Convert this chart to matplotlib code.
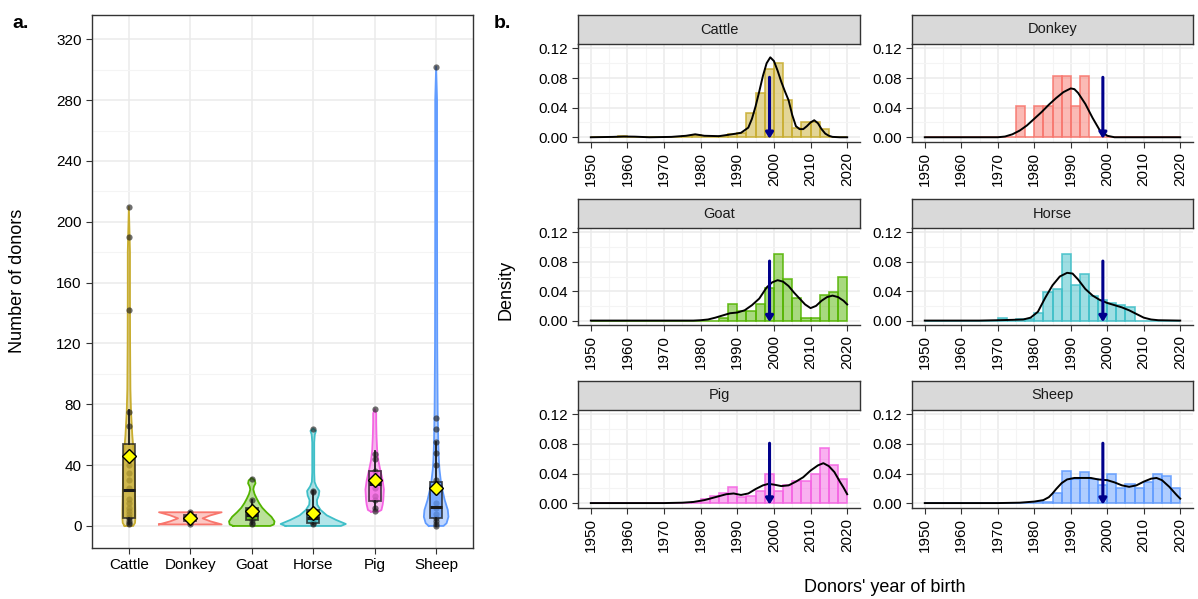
import numpy as np
import matplotlib.pyplot as plt
from matplotlib.colors import to_rgba

plt.rcParams['font.family'] = ['Liberation Sans', 'DejaVu Sans']

# ---------------- panel a data ----------------
species = ['Cattle', 'Donkey', 'Goat', 'Horse', 'Pig', 'Sheep']
colors = ['#C8AD2F', '#F8766D', '#53B400', '#3FBFC8', '#F564E3', '#619CFF']

# violin outlines: y levels and half widths
cattle_vy = [0, 2, 5, 10, 20, 30, 40, 50, 60, 75, 90, 120, 150, 180, 210]
cattle_vw = [0.07, 0.1, 0.105, 0.105, 0.1, 0.095, 0.09, 0.075, 0.055, 0.035, 0.025, 0.02, 0.018, 0.018, 0.0]
donkey_vy = [1, 3, 5, 7, 9]
donkey_vw = [0.51, 0.33, 0.2, 0.33, 0.51]
goat_vy = [0, 1, 3, 6, 9, 12, 15, 18, 21, 24, 26, 28, 30, 31.5]
goat_vw = [0.3, 0.36, 0.37, 0.32, 0.24, 0.17, 0.12, 0.08, 0.045, 0.025, 0.035, 0.06, 0.05, 0.0]
horse_vy = [0, 1.3, 4, 7, 10.5, 14, 17, 20, 23, 26, 29, 35, 45, 55, 60, 62.5, 64]
horse_vw = [0.45, 0.53, 0.37, 0.22, 0.12, 0.065, 0.06, 0.09, 0.1, 0.05, 0.022, 0.016, 0.016, 0.016, 0.025, 0.045, 0.0]
pig_vy = [9.4, 10.5, 14, 17, 24, 30, 37, 43, 50, 59, 68, 74, 76.8]
pig_vw = [0.06, 0.11, 0.13, 0.14, 0.15, 0.13, 0.09, 0.06, 0.04, 0.03, 0.025, 0.025, 0.0]
sheep_vy = [0, 1.8, 6, 10.5, 17, 24, 30, 37, 43, 54, 65, 76, 120, 200, 280, 302]
sheep_vw = [0.12, 0.17, 0.2, 0.19, 0.14, 0.1, 0.075, 0.055, 0.045, 0.035, 0.03, 0.025, 0.018, 0.015, 0.015, 0.0]
violin_y = [cattle_vy, donkey_vy, goat_vy, horse_vy, pig_vy, sheep_vy]
violin_w = [cattle_vw, donkey_vw, goat_vw, horse_vw, pig_vw, sheep_vw]

# box stats: whisker low, q1, median, q3, whisker high
box_lo = [1, 1, 1, 1, 11, 0]
box_q1 = [5, 3, 4, 2, 16.7, 5.5]
box_med = [23.7, 5, 7, 5, 27.4, 12.7]
box_q3 = [54, 7, 11.6, 10.5, 36.2, 29.2]
box_hi = [76, 9, 17, 23, 49, 55]
means = [46, 5, 9.9, 8.5, 30.3, 24.8]

# individual donor counts (visible dots)
cattle_pts = [210, 190, 142, 75, 66, 44, 40, 35, 30, 25, 18, 15, 12, 10, 8, 6, 5, 3, 2, 1]
donkey_pts = [1, 3, 5, 7, 9]
goat_pts = [31, 17, 11, 8, 6, 4, 2, 1]
horse_pts = [64, 23, 22, 10, 6, 4, 2, 1]
pig_pts = [77, 47, 44, 36, 30, 25, 20, 17, 12, 10]
sheep_pts = [302, 71, 64, 55, 48, 40, 30, 22, 15, 12, 8, 5, 3, 1, 0]
points = [cattle_pts, donkey_pts, goat_pts, horse_pts, pig_pts, sheep_pts]

# ---------------- panel b data ----------------
bin_width = 2.5
bin_starts = np.arange(1950, 2020, bin_width)  # 28 bins
hist_cattle = [0, 0, 0, 0.002, 0, 0.001, 0, 0, 0, 0, 0.002, 0.003, 0.001, 0.001,
               0.002, 0.005, 0.006, 0.033, 0.060, 0.092, 0.101, 0.051, 0.012, 0.021,
               0.021, 0.011, 0, 0]
hist_donkey = [0, 0, 0, 0, 0, 0, 0, 0, 0, 0, 0.042, 0, 0.042, 0.042,
               0.083, 0.083, 0.042, 0.083, 0, 0, 0, 0, 0, 0, 0, 0, 0, 0]
hist_goat = [0, 0, 0, 0, 0, 0, 0, 0, 0, 0, 0, 0, 0, 0,
             0.004, 0.022, 0.013, 0.013, 0.022, 0.044, 0.090, 0.056, 0.031, 0.004,
             0.004, 0.035, 0.039, 0.060]
hist_horse = [0, 0, 0, 0, 0, 0, 0, 0, 0.003, 0, 0.002, 0.002, 0.010, 0.039,
              0.043, 0.091, 0.048, 0.064, 0.034, 0.028, 0.024, 0.021, 0.018, 0,
              0, 0, 0, 0]
hist_pig = [0, 0, 0, 0, 0, 0, 0, 0, 0, 0, 0, 0.001, 0.006, 0.009,
            0.013, 0.022, 0.008, 0.010, 0.017, 0.040, 0.016, 0.024, 0.030, 0.030,
            0.039, 0.075, 0.052, 0.032]
hist_sheep = [0, 0, 0, 0, 0, 0, 0, 0, 0, 0, 0, 0, 0.001, 0.002,
              0.013, 0.043, 0.032, 0.042, 0.033, 0.024, 0.040, 0.020, 0.026, 0.020,
              0.028, 0.040, 0.036, 0.020]
hists = [hist_cattle, hist_donkey, hist_goat, hist_horse, hist_pig, hist_sheep]

# density curves
dens_cattle_x = [1950, 1956, 1959, 1962, 1966, 1972, 1976, 1978.5, 1981, 1985, 1988.5, 1991,
                 1993, 1994, 1995, 1996, 1997, 1998, 1999, 2000, 2001, 2002, 2003, 2004,
                 2005, 2006, 2007, 2008, 2009, 2010, 2011, 2012, 2013, 2014, 2015, 2016, 2018, 2020]
dens_cattle_y = [0, 0.0005, 0.001, 0.0008, 0, 0.0005, 0.002, 0.004, 0.002, 0.0015, 0.004, 0.006,
                 0.013, 0.025, 0.042, 0.062, 0.083, 0.100, 0.108, 0.103, 0.090, 0.075, 0.062, 0.050,
                 0.030, 0.015, 0.011, 0.011, 0.015, 0.020, 0.023, 0.019, 0.011, 0.005, 0.002, 0.0005, 0, 0]
dens_donkey_x = [1950, 1970, 1972, 1974, 1976, 1978, 1980, 1982, 1984, 1986, 1988, 1990, 1991,
                 1992, 1994, 1996, 1998, 2000, 2002, 2020]
dens_donkey_y = [0, 0, 0.001, 0.004, 0.009, 0.016, 0.025, 0.034, 0.044, 0.053, 0.061, 0.066, 0.065,
                 0.060, 0.045, 0.026, 0.009, 0.002, 0, 0]
dens_goat_x = [1950, 1978, 1980, 1982, 1984, 1986, 1988, 1990, 1992, 1994, 1996, 1998, 1999.5,
               2001, 2002.5, 2004, 2005.5, 2007, 2008.5, 2010, 2011.5, 2013, 2014.5, 2016, 2017.5,
               2019, 2020]
dens_goat_y = [0, 0, 0.0005, 0.0015, 0.004, 0.007, 0.010, 0.011, 0.014, 0.021, 0.030, 0.045, 0.052,
               0.055, 0.053, 0.047, 0.038, 0.030, 0.022, 0.017, 0.020, 0.027, 0.032, 0.034, 0.032,
               0.027, 0.022]
dens_horse_x = [1950, 1965, 1970, 1974, 1977, 1979, 1981, 1983, 1985, 1987, 1989, 1990.5, 1992,
                1994, 1996, 1998, 2000, 2002, 2004, 2006, 2008, 2010, 2012, 2014, 2020]
dens_horse_y = [0, 0, 0.0005, 0.001, 0.0015, 0.004, 0.012, 0.031, 0.048, 0.060, 0.065, 0.064, 0.056,
                0.043, 0.034, 0.028, 0.024, 0.021, 0.018, 0.014, 0.009, 0.004, 0.0015, 0.0005, 0]
dens_pig_x = [1950, 1970, 1975, 1978, 1981, 1984, 1987, 1989, 1991, 1993, 1995, 1997, 1998.5,
              2000, 2002, 2004, 2006, 2008, 2010, 2012, 2013.5, 2015, 2016.5, 2018, 2019, 2020]
dens_pig_y = [0, 0, 0.0005, 0.0015, 0.004, 0.008, 0.012, 0.013, 0.011, 0.013, 0.019, 0.024, 0.026,
              0.025, 0.023, 0.024, 0.029, 0.035, 0.044, 0.051, 0.054, 0.050, 0.042, 0.029, 0.021, 0.012]
dens_sheep_x = [1950, 1970, 1976, 1980, 1982.5, 1984, 1985, 1986, 1987.5, 1989, 1991, 1993, 1995.5,
                1997.5, 2000, 2002, 2004, 2006, 2008, 2010, 2012, 2013.5, 2015, 2017, 2019, 2020]
dens_sheep_y = [0, 0, 0.0005, 0.002, 0.004, 0.008, 0.013, 0.019, 0.027, 0.032, 0.034, 0.034, 0.034,
                0.032, 0.031, 0.028, 0.024, 0.022, 0.024, 0.029, 0.033, 0.034, 0.031, 0.022, 0.011, 0.006]
dens_x = [dens_cattle_x, dens_donkey_x, dens_goat_x, dens_horse_x, dens_pig_x, dens_sheep_x]
dens_y = [dens_cattle_y, dens_donkey_y, dens_goat_y, dens_horse_y, dens_pig_y, dens_sheep_y]

arrow_year = 1998.8
arrow_top = 0.081

W, H = 1198, 599
fig = plt.figure(figsize=(W / 100, H / 100), dpi=100)


def px_axes(x0, y0, x1, y1):
    # pixel box (top-left origin) -> figure axes
    return fig.add_axes([x0 / W, 1 - y1 / H, (x1 - x0) / W, (y1 - y0) / H])


grid_major = '#EBEBEB'
grid_minor = '#F4F4F4'

# ---------------- panel a ----------------
ax = px_axes(92, 15, 473, 548)
ax.set_xlim(0.4, 6.6)
ax.set_ylim(-14.5, 336)
ax.set_yticks(np.arange(0, 321, 40))
ax.set_yticks(np.arange(20, 321, 40), minor=True)
ax.set_xticks(range(1, 7))
ax.set_xticklabels(species, fontsize=11)
ax.tick_params(axis='y', labelsize=11, length=4, color='#333333')
ax.tick_params(axis='x', length=4, color='#333333')
ax.tick_params(which='minor', length=0)
ax.grid(True, which='major', color=grid_major, lw=1.1, zorder=0)
ax.grid(True, which='minor', axis='y', color=grid_minor, lw=0.8, zorder=0)
ax.set_axisbelow(True)
for s in ax.spines.values():
    s.set_color('#333333')
    s.set_linewidth(1.0)

for i in range(6):
    pos = i + 1
    vy = np.array(violin_y[i])
    vw = np.array(violin_w[i])
    ax.fill_betweenx(vy, pos - vw, pos + vw, facecolor=colors[i], alpha=0.4,
                     edgecolor='none', zorder=2)
    ax.plot(np.concatenate([pos - vw, (pos + vw)[::-1], [pos - vw[0]]]),
            np.concatenate([vy, vy[::-1], [vy[0]]]), color=colors[i], lw=1.3, zorder=3)
    ax.scatter([pos] * len(points[i]), points[i], s=20, color='#222222', alpha=0.65,
               lw=0, zorder=4)
    stats = [dict(med=box_med[i], q1=box_q1[i], q3=box_q3[i], whislo=box_lo[i],
                  whishi=box_hi[i], fliers=[])]
    ax.bxp(stats, positions=[pos], widths=0.2, patch_artist=True, showcaps=False,
           boxprops=dict(facecolor=colors[i], alpha=0.75, edgecolor='#1a1a1a', lw=1.3),
           medianprops=dict(color='#1a1a1a', lw=2.2),
           whiskerprops=dict(color='#1a1a1a', lw=1.3), manage_ticks=False, zorder=5)
    ax.plot(pos, means[i], marker='D', ms=7, mfc='#FFFF00', mec='black', mew=1.0, zorder=6)

fig.text(18 / W, 1 - 281 / H, 'Number of donors', rotation=90, fontsize=13,
         ha='center', va='center')
fig.text(12 / W, 1 - 24 / H, 'a.', fontsize=14, fontweight='bold', va='center')
fig.text(494 / W, 1 - 24 / H, 'b.', fontsize=14, fontweight='bold', va='center')

# ---------------- panel b ----------------
col_x = [(578, 860), (912, 1193)]
row_y = [(15, 44, 141.7), (199, 228, 325), (381, 410, 507.5)]

for i in range(6):
    r, c = divmod(i, 2)
    x0, x1 = col_x[c]
    st, pt, pb = row_y[r]
    bx = px_axes(x0, pt, x1, pb)
    bx.set_xlim(1946.5, 2023.5)
    bx.set_ylim(-0.006, 0.126)
    bx.set_xticks(np.arange(1950, 2021, 10))
    bx.set_xticks(np.arange(1955, 2021, 10), minor=True)
    bx.set_yticks([0, 0.04, 0.08, 0.12])
    bx.set_yticks([0.02, 0.06, 0.10], minor=True)
    bx.set_yticklabels(['0.00', '0.04', '0.08', '0.12'])
    bx.tick_params(axis='x', labelrotation=90, labelsize=11, length=4, color='#333333')
    bx.tick_params(axis='y', labelsize=11, length=4, color='#333333')
    bx.tick_params(which='minor', length=0)
    bx.grid(True, which='major', color=grid_major, lw=1.1)
    bx.grid(True, which='minor', color=grid_minor, lw=0.8)
    bx.set_axisbelow(True)
    for name, s in bx.spines.items():
        if name in ('left', 'bottom'):
            s.set_color('#333333')
            s.set_linewidth(1.0)
        else:
            s.set_visible(False)
    bx.bar(bin_starts, hists[i], width=bin_width, align='edge',
           facecolor=to_rgba(colors[i], 0.5), edgecolor=to_rgba(colors[i], 0.85),
           lw=1.2, zorder=2)
    bx.plot(dens_x[i], dens_y[i], color='black', lw=1.4, zorder=3)
    bx.annotate('', xy=(arrow_year, -0.002), xytext=(arrow_year, arrow_top),
                arrowprops=dict(arrowstyle='-|>,head_length=0.35,head_width=0.22',
                                color='#00008B', lw=2.2, shrinkA=0, shrinkB=0), zorder=4)

    sx = px_axes(x0, st, x1, pt)
    sx.set_xticks([])
    sx.set_yticks([])
    sx.set_facecolor('#D9D9D9')
    for s in sx.spines.values():
        s.set_color('#333333')
        s.set_linewidth(1.0)
    sx.text(0.5, 0.5, species[i], ha='center', va='center', fontsize=10.5,
            color='#1a1a1a', transform=sx.transAxes)

fig.text(506 / W, 1 - 290 / H, 'Density', rotation=90, fontsize=13, ha='center', va='center')
fig.text(885 / W, 1 - 588 / H, "Donors' year of birth", fontsize=13, ha='center', va='center')

fig.savefig('out.png', dpi=100)
